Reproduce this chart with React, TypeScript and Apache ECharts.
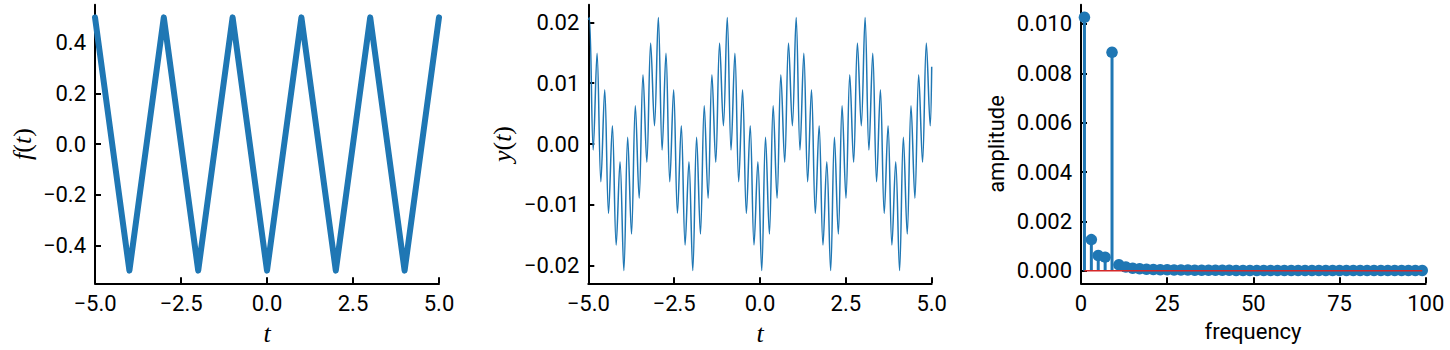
import React, { useEffect, useRef } from "react";
import * as echarts from "echarts";

// Panel 1: triangle wave vertices
const triT = [-5, -4, -3, -2, -1, 0, 1, 2, 3, 4, 5];
const triF = [0.5, -0.5, 0.5, -0.5, 0.5, -0.5, 0.5, -0.5, 0.5, -0.5, 0.5];

// Panel 2: response y(t), extrema
const respT = [
  -5.0,
  -4.968, -4.857, -4.745, -4.634, -4.522, -4.411, -4.299, -4.188, -4.076, -3.965, -3.853, -3.742, -3.63, -3.519, -3.407, -3.296, -3.184, -3.073,
  -2.961, -2.85, -2.738, -2.627, -2.515, -2.404, -2.292, -2.181, -2.069, -1.958, -1.846, -1.735, -1.623, -1.512, -1.4, -1.289, -1.177, -1.066,
  -0.954, -0.843, -0.731, -0.62, -0.508, -0.397, -0.285, -0.174, -0.062, 0.05, 0.161, 0.273, 0.384, 0.496, 0.607, 0.719, 0.83, 0.942,
  1.053, 1.165, 1.276, 1.388, 1.499, 1.611, 1.722, 1.834, 1.945, 2.057, 2.168, 2.28, 2.391, 2.503, 2.614, 2.726, 2.837, 2.949,
  3.06, 3.172, 3.283, 3.395, 3.506, 3.618, 3.729, 3.841, 3.952, 4.064, 4.175, 4.287, 4.398, 4.51, 4.621, 4.733, 4.844, 4.956,
  5.0,
];
const respY = [
  0.0204,
  0.0208, -0.001, 0.0149, -0.0062, 0.0089, -0.0114, 0.003, -0.0166, -0.0029, -0.0208, 0.0011, -0.0148, 0.0063, -0.0089, 0.0114, -0.003, 0.0166, 0.003,
  0.0208, -0.001, 0.0149, -0.0062, 0.0089, -0.0114, 0.003, -0.0166, -0.0029, -0.0208, 0.0011, -0.0148, 0.0063, -0.0089, 0.0114, -0.003, 0.0166, 0.003,
  0.0208, -0.001, 0.0149, -0.0062, 0.0089, -0.0114, 0.003, -0.0166, -0.0029, -0.0208, 0.0011, -0.0148, 0.0063, -0.0089, 0.0114, -0.003, 0.0166, 0.003,
  0.0208, -0.001, 0.0149, -0.0062, 0.0089, -0.0114, 0.003, -0.0166, -0.0029, -0.0208, 0.0011, -0.0148, 0.0063, -0.0089, 0.0114, -0.003, 0.0166, 0.003,
  0.0208, -0.001, 0.0149, -0.0062, 0.0089, -0.0114, 0.003, -0.0166, -0.0029, -0.0208, 0.0011, -0.0148, 0.0063, -0.0089, 0.0114, -0.003, 0.0166, 0.003,
  0.0127,
];

// Panel 3: amplitude spectrum
const freqs = [
  1, 3, 5, 7, 9, 11, 13, 15, 17, 19,
  21, 23, 25, 27, 29, 31, 33, 35, 37, 39,
  41, 43, 45, 47, 49, 51, 53, 55, 57, 59,
  61, 63, 65, 67, 69, 71, 73, 75, 77, 79,
  81, 83, 85, 87, 89, 91, 93, 95, 97, 99,
];
const amps = [
  0.01027, 0.00126, 0.00062, 0.00055, 0.00885, 0.00024, 0.00015, 0.0001, 0.00008, 0.00006,
  0.00005, 0.00004, 0.00004, 0.00003, 0.00003, 0.00003, 0.00002, 0.00002, 0.00002, 0.00002,
  0.00002, 0.00002, 0.00001, 0.00001, 0.00001, 0.00001, 0.00001, 0.00001, 0.00001, 0.00001,
  0.00001, 0.00001, 0.00001, 0.00001, 0.00001, 0.00001, 0.00001, 0.00001, 0.00001, 0.00001,
  0.00001, 0.00001, 0.00001, 0.00001, 0.00001, 0.00001, 0.00001, 0.00001, 0.00001, 0.00001,
];

// Tick values
const tTicks = [-5, -2.5, 0, 2.5, 5];
const fTicks = [-0.4, -0.2, 0, 0.2, 0.4];
const yTicks = [-0.02, -0.01, 0, 0.01, 0.02];
const ampTicks = [0, 0.002, 0.004, 0.006, 0.008, 0.01];
const freqTicks = [0, 25, 50, 75, 100];

const BLUE = "#1f77b4";
const RED = "#d62728";
const FONT = "Roboto";
const MATH = "Liberation Serif";

const fmt = (d: number) => (v: number) => {
  const s = Math.abs(v).toFixed(d);
  return (v < 0 && Number(s) !== 0 ? "\u2212" : "") + s;
};

function axis(gridIndex: number, min: number, max: number, ticks: number[], digits: number) {
  return {
    type: "value",
    gridIndex,
    min,
    max,
    axisLine: { show: true, onZero: false, lineStyle: { color: "#000", width: 2 } },
    axisTick: { show: true, inside: true, length: 6, customValues: ticks, lineStyle: { color: "#000", width: 2 } },
    axisLabel: {
      show: true,
      customValues: ticks,
      color: "#000",
      fontFamily: FONT,
      fontSize: 22,
      margin: 9,
      formatter: fmt(digits),
    },
    splitLine: { show: false },
  };
}

function mathLabel(x: number, y: number, a: string, b: string, rotate: boolean) {
  const text = rotate ? `{i|${a}}{u|(}{i|${b}}{u|)}` : `{i|${a}}`;
  return {
    type: "text",
    x,
    y,
    rotation: rotate ? Math.PI / 2 : 0,
    style: {
      text,
      align: "center",
      verticalAlign: "middle",
      fill: "#000",
      rich: {
        i: { fontFamily: MATH, fontStyle: "italic", fontSize: 26, fill: "#000" },
        u: { fontFamily: MATH, fontSize: 26, fill: "#000" },
      },
    },
  };
}

export default function App() {
  const ref = useRef<HTMLDivElement>(null);
  useEffect(() => {
    if (!ref.current) return;
    const chart = echarts.init(ref.current, undefined, { renderer: "svg" });
    const stemData = freqs.map((f, i) => [f, amps[i]]);
    const option = {
      animation: false,
      backgroundColor: "#fff",
      grid: [
        { left: 95, top: 4.7, width: 344, height: 278.6 },
        { left: 588.3, top: 4.7, width: 343.4, height: 278.6 },
        { left: 1081, top: 4.7, width: 344.7, height: 278.6 },
      ],
      xAxis: [
        axis(0, -5, 5, tTicks, 1),
        axis(1, -5, 5, tTicks, 1),
        axis(2, 0, 100, freqTicks, 0),
      ],
      yAxis: [
        axis(0, -0.55, 0.55, fTicks, 1),
        axis(1, -0.0229, 0.0229, yTicks, 2),
        axis(2, -0.00051, 0.01078, ampTicks, 3),
      ],
      series: [
        {
          type: "line",
          xAxisIndex: 0,
          yAxisIndex: 0,
          data: triT.map((t, i) => [t, triF[i]]),
          symbol: "none",
          lineStyle: { color: BLUE, width: 6, join: "round", cap: "round" },
        },
        {
          type: "line",
          xAxisIndex: 1,
          yAxisIndex: 1,
          data: respT.map((t, i) => [t, respY[i]]),
          symbol: "none",
          smooth: 0.36,
          lineStyle: { color: BLUE, width: 1.5 },
        },
        {
          type: "custom",
          xAxisIndex: 2,
          yAxisIndex: 2,
          data: stemData,
          encode: { x: 0, y: 1 },
          renderItem: (params: any, api: any) => {
            const x = api.value(0);
            const y = api.value(1);
            const p0 = api.coord([x, 0]);
            const p1 = api.coord([x, y]);
            return {
              type: "line",
              shape: { x1: p0[0], y1: p0[1], x2: p1[0], y2: p1[1] },
              style: { stroke: BLUE, lineWidth: 3 },
            };
          },
        },
        {
          type: "scatter",
          xAxisIndex: 2,
          yAxisIndex: 2,
          data: stemData,
          symbol: "circle",
          symbolSize: 11.5,
          itemStyle: { color: BLUE, opacity: 1 },
        },
        {
          type: "line",
          xAxisIndex: 2,
          yAxisIndex: 2,
          data: [
            [freqs[0], 0],
            [freqs[freqs.length - 1], 0],
          ],
          symbol: "none",
          z: 10,
          lineStyle: { color: RED, width: 1.5 },
        },
      ],
      graphic: [
        mathLabel(22, 144, "f", "t", true),
        mathLabel(502, 144, "y", "t", true),
        mathLabel(267, 333, "t", "", false),
        mathLabel(760, 333, "t", "", false),
        {
          type: "text",
          x: 996,
          y: 144,
          rotation: Math.PI / 2,
          style: { text: "amplitude", fontFamily: FONT, fontSize: 22, fill: "#000", align: "center", verticalAlign: "middle" },
        },
        {
          type: "text",
          x: 1253,
          y: 331,
          style: { text: "frequency", fontFamily: FONT, fontSize: 22, fill: "#000", align: "center", verticalAlign: "middle" },
        },
      ],
    };
    chart.setOption(option as any);
    return () => chart.dispose();
  }, []);
  return (
    <div
      ref={ref}
      style={{ position: "absolute", left: 0, top: 0, width: 1450, height: 350, background: "#fff" }}
    />
  );
}
